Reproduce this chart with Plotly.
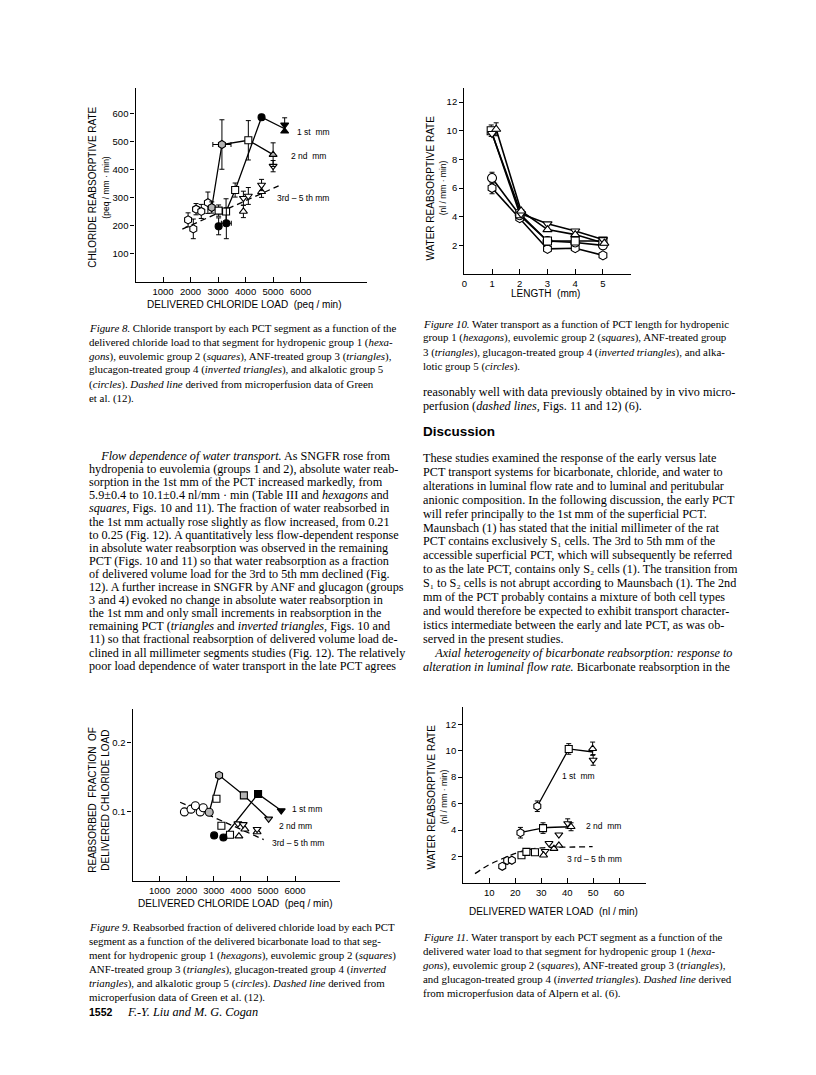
import plotly.graph_objects as go

# page size, and the 8px body margin the browser adds around the plot div
PAGE_W, PAGE_H = 816, 1075
OFF = 8
W, H = PAGE_W - 2 * OFF, PAGE_H - 2 * OFF

# ---------------- data ----------------

# Figure 8: chloride reabsorptive rate vs delivered chloride load
f8_hex_open_x = [1910, 2100, 2200, 2390, 2630]
f8_hex_open_y = [221, 189, 259, 251, 282]
f8_hex_open_e = [25, 35, 20, 25, 38]
f8_hex_gray_x = [2770, 3140]
f8_hex_gray_y = [265, 489]
f8_hex_gray_e = [20, 88]
f8_hex_gray_ex = [0, 330]
f8_sq_x = [3020, 3290, 3620, 4100]
f8_sq_y = [254, 251, 327, 504]
f8_sq_e = [20, 45, 25, 70]
f8_circ_x = [3020, 3300, 4580]
f8_circ_y = [198, 209, 586]
f8_circ_e = [30, 55, 10]
f8_circ_ex = [0, 180, 0]
f8_tri_open_x = [3920, 4580]
f8_tri_open_y = [251, 321]
f8_tri_open_e = [22, 20]
f8_inv_open_x = [5000, 3920, 4100, 4580]
f8_inv_open_y = [412, 298, 306, 345]
f8_inv_open_e = [20, 25, 30, 20]
f8_tri_gray_x = [5000]
f8_tri_gray_y = [453]
f8_tri_gray_e = [42]
f8_tri_black_x = [5420]
f8_tri_black_y = [536]
f8_inv_black_x = [5420]
f8_inv_black_y = [559]
f8_inv_black_e = [25]
f8_line_2nd_x = [2770, 3140, 4100, 5000]
f8_line_2nd_y = [265, 489, 504, 453]
f8_line_1st_x = [3290, 3620, 4580, 5420]
f8_line_1st_y = [251, 327, 586, 545]
f8_dash_x = [1700, 5200]
f8_dash_y = [188, 342]

# Figure 10: water reabsorptive rate vs PCT length
f10_hex_x = [1, 2, 3, 4, 5]
f10_hex_y = [6.0, 3.9, 1.75, 1.8, 1.3]
f10_sq_x = [0.97, 2, 3, 4, 5]
f10_sq_y = [10.0, 4.2, 2.3, 2.3, 2.3]
f10_tri_x = [1.15, 2.05, 3, 4, 5.05]
f10_tri_y = [10.1, 4.4, 3.1, 2.75, 2.15]
f10_inv_x = [1.0, 2.05, 3, 4, 5]
f10_inv_y = [9.8, 4.2, 3.5, 3.0, 2.4]
f10_circ_x = [1, 2, 3, 4, 5]
f10_circ_y = [6.7, 4.1, 2.3, 2.2, 2.0]
f10_err = [0.4, 0, 0, 0, 0]
f10_tri_err = [0.45, 0, 0, 0, 0]

# Figure 9: reabsorbed fraction of delivered chloride load
f9_open_circ_x = [1915, 2160, 2320, 2500, 2610]
f9_open_circ_y = [0.100, 0.104, 0.109, 0.100, 0.106]
f9_gray_circ_x = [2830]
f9_gray_circ_y = [0.0995]
f9_gray_hex_x = [3195]
f9_gray_hex_y = [0.153]
f9_gray_sq_x = [4110]
f9_gray_sq_y = [0.124]
f9_gray_inv_x = [5024]
f9_gray_inv_y = [0.090]
f9_black_circ_x = [3012, 3354]
f9_black_circ_y = [0.066, 0.063]
f9_black_sq_x = [4634]
f9_black_sq_y = [0.126]
f9_black_tri_x = [5488]
f9_black_tri_y = [0.102]
f9_open_sq_x = [3098, 3280, 3598]
f9_open_sq_y = [0.119, 0.080, 0.067]
f9_open_tri_x = [3927, 4146, 4598]
f9_open_tri_y = [0.065, 0.075, 0.071]
f9_open_inv_x = [3890, 4085, 4598]
f9_open_inv_y = [0.083, 0.082, 0.075]
f9_line_2nd_x = [2830, 3195, 4110, 5024]
f9_line_2nd_y = [0.0995, 0.153, 0.124, 0.090]
f9_line_1st_x = [3354, 4634, 5488]
f9_line_1st_y = [0.063, 0.126, 0.102]
f9_dash_x = [1756, 4841]
f9_dash_y = [0.114, 0.060]

# Figure 11: water reabsorptive rate vs delivered water load
f11_hex_x = [28.5, 22.0, 15.0, 16.9, 18.7]
f11_hex_y = [5.8, 3.8, 1.26, 1.70, 1.72]
f11_hex_e = [0.4, 0.4, 0, 0, 0]
f11_sq_x = [40.6, 30.7, 22.4, 24.3, 27.6]
f11_sq_y = [10.13, 4.15, 2.1, 2.35, 2.32]
f11_sq_e = [0.4, 0.4, 0, 0, 0]
f11_tri_x = [49.8, 41.5, 30.9, 34.9, 36.8]
f11_tri_y = [10.15, 4.25, 2.1, 2.6, 2.85]
f11_tri_e = [0.5, 0.3, 0, 0, 0]
f11_inv_x = [50.0, 40.2, 31.5, 33.0, 36.8]
f11_inv_y = [9.3, 4.5, 2.4, 3.0, 3.65]
f11_inv_e = [0.4, 0.35, 0, 0, 0]
f11_line_1st_x = [28.5, 40.6, 50.0]
f11_line_1st_y = [5.8, 10.13, 9.9]
f11_line_2nd_x = [22.0, 30.7, 41.5]
f11_line_2nd_y = [3.8, 4.15, 4.25]
f11_dash_x = [4.5, 9.6, 14.7, 19.8, 24.9, 30.0, 35.1, 42.8, 49.8]
f11_dash_y = [0.71, 1.34, 1.81, 2.22, 2.52, 2.65, 2.70, 2.72, 2.75]

# tick labels
f8_xticks = [1000, 2000, 3000, 4000, 5000, 6000]
f8_yticks = [100, 200, 300, 400, 500, 600]
f10_xticks = [0, 1, 2, 3, 4, 5]
f10_yticks = [2, 4, 6, 8, 10, 12]
f9_xticks = [1000, 2000, 3000, 4000, 5000, 6000]
f9_yticks = [0.1, 0.2]
f11_xticks = [10, 20, 30, 40, 50, 60]
f11_yticks = [2, 4, 6, 8, 10, 12]

# text of the page
fig8_caption = [
    "<i>Figure 8.</i> Chloride transport by each PCT segment as a function of the",
    "delivered chloride load to that segment for hydropenic group 1 (<i>hexa-</i>",
    "<i>gons</i>), euvolemic group 2 (<i>squares</i>), ANF-treated group 3 (<i>triangles</i>),",
    "glucagon-treated group 4 (<i>inverted triangles</i>), and alkalotic group 5",
    "(<i>circles</i>). <i>Dashed line</i> derived from microperfusion data of Green",
    "et al. (12).",
]
fig10_caption = [
    "<i>Figure 10.</i> Water transport as a function of PCT length for hydropenic",
    "group 1 (<i>hexagons</i>), euvolemic group 2 (<i>squares</i>), ANF-treated group",
    "3 (<i>triangles</i>), glucagon-treated group 4 (<i>inverted triangles</i>), and alka-",
    "lotic group 5 (<i>circles</i>).",
]
fig9_caption = [
    "<i>Figure 9.</i> Reabsorbed fraction of delivered chloride load by each PCT",
    "segment as a function of the delivered bicarbonate load to that seg-",
    "ment for hydropenic group 1 (<i>hexagons</i>), euvolemic group 2 (<i>squares</i>)",
    "ANF-treated group 3 (<i>triangles</i>), glucagon-treated group 4 (<i>inverted</i>",
    "<i>triangles</i>), and alkalotic group 5 (<i>circles</i>). <i>Dashed line</i> derived from",
    "microperfusion data of Green et al. (12).",
]
fig11_caption = [
    "<i>Figure 11.</i> Water transport by each PCT segment as a function of the",
    "delivered water load to that segment for hydropenic group 1 (<i>hexa-</i>",
    "<i>gons</i>), euvolemic group 2 (<i>squares</i>), ANF-treated group 3 (<i>triangles</i>),",
    "and glucagon-treated group 4 (<i>inverted triangles</i>). <i>Dashed line</i> derived",
    "from microperfusion data of Alpern et al. (6).",
]
left_body = [
    "    <i>Flow dependence of water transport.</i> As SNGFR rose from",
    "hydropenia to euvolemia (groups 1 and 2), absolute water reab-",
    "sorption in the 1st mm of the PCT increased markedly, from",
    "5.9±0.4 to 10.1±0.4 nl/mm · min (Table III and <i>hexagons</i> and",
    "<i>squares,</i> Figs. 10 and 11). The fraction of water reabsorbed in",
    "the 1st mm actually rose slightly as flow increased, from 0.21",
    "to 0.25 (Fig. 12). A quantitatively less flow-dependent response",
    "in absolute water reabsorption was observed in the remaining",
    "PCT (Figs. 10 and 11) so that water reabsorption as a fraction",
    "of delivered volume load for the 3rd to 5th mm declined (Fig.",
    "12). A further increase in SNGFR by ANF and glucagon (groups",
    "3 and 4) evoked no change in absolute water reabsorption in",
    "the 1st mm and only small increments in reabsorption in the",
    "remaining PCT (<i>triangles</i> and <i>inverted triangles,</i> Figs. 10 and",
    "11) so that fractional reabsorption of delivered volume load de-",
    "clined in all millimeter segments studies (Fig. 12). The relatively",
    "poor load dependence of water transport in the late PCT agrees",
]
right_top = [
    "reasonably well with data previously obtained by in vivo micro-",
    "perfusion (<i>dashed lines,</i> Figs. 11 and 12) (6).",
]
right_body = [
    "These studies examined the response of the early versus late",
    "PCT transport systems for bicarbonate, chloride, and water to",
    "alterations in luminal flow rate and to luminal and peritubular",
    "anionic composition. In the following discussion, the early PCT",
    "will refer principally to the 1st mm of the superficial PCT.",
    "Maunsbach (1) has stated that the initial millimeter of the rat",
    "PCT contains exclusively S₁ cells. The 3rd to 5th mm of the",
    "accessible superficial PCT, which will subsequently be referred",
    "to as the late PCT, contains only S₂ cells (1). The transition from",
    "S₁ to S₂ cells is not abrupt according to Maunsbach (1). The 2nd",
    "mm of the PCT probably contains a mixture of both cell types",
    "and would therefore be expected to exhibit transport character-",
    "istics intermediate between the early and late PCT, as was ob-",
    "served in the present studies.",
    "    <i>Axial heterogeneity of bicarbonate reabsorption: response to</i>",
    "<i>alteration in luminal flow rate.</i> Bicarbonate reabsorption in the",
]

SERIF = "Liberation Serif"
SANS = "Liberation Sans"
GRAY = "#b4b4b4"


# page pixel -> paper fraction
def px(x):
    return (x - OFF) / W


def py(y):
    return 1 - (y - OFF) / H


fig = go.Figure()


def add_marks(n, x, y, symbol, fill, size, err=None, errx=None):
    sfx = "" if n == 1 else str(n)
    kw = {}
    if err is not None:
        kw["error_y"] = dict(type="data", array=err, color="black", thickness=1, width=2.5)
    if errx is not None:
        kw["error_x"] = dict(type="data", array=errx, color="black", thickness=1, width=2.5)
    fig.add_trace(go.Scatter(
        x=x, y=y, mode="markers", xaxis="x" + sfx, yaxis="y" + sfx,
        marker=dict(symbol=symbol, color=fill, size=size, line=dict(color="black", width=1.1)),
        showlegend=False, hoverinfo="skip", **kw))


def add_line(n, x, y, dash="solid", width=1.3, shape="linear"):
    sfx = "" if n == 1 else str(n)
    fig.add_trace(go.Scatter(
        x=x, y=y, mode="lines", xaxis="x" + sfx, yaxis="y" + sfx,
        line=dict(color="black", width=width, dash=dash, shape=shape),
        showlegend=False, hoverinfo="skip"))


# ---- Figure 8 ----
add_line(1, f8_dash_x, f8_dash_y, dash="6px,4px")
add_line(1, f8_line_2nd_x, f8_line_2nd_y)
add_line(1, f8_line_1st_x, f8_line_1st_y)
add_marks(1, f8_hex_open_x, f8_hex_open_y, "hexagon", "white", 8, f8_hex_open_e)
add_marks(1, f8_hex_gray_x, f8_hex_gray_y, "hexagon", GRAY, 8, f8_hex_gray_e, f8_hex_gray_ex)
add_marks(1, f8_sq_x, f8_sq_y, "square", "white", 7, f8_sq_e)
add_marks(1, f8_circ_x, f8_circ_y, "circle", "black", 7, f8_circ_e, f8_circ_ex)
add_marks(1, f8_tri_open_x, f8_tri_open_y, "triangle-up", "white", 7, f8_tri_open_e)
add_marks(1, f8_inv_open_x, f8_inv_open_y, "triangle-down", "white", 7, f8_inv_open_e)
add_marks(1, f8_tri_gray_x, f8_tri_gray_y, "triangle-up", GRAY, 7, f8_tri_gray_e)
add_marks(1, f8_tri_black_x, f8_tri_black_y, "triangle-up", "black", 7)
add_marks(1, f8_inv_black_x, f8_inv_black_y, "triangle-down", "black", 7, f8_inv_black_e)

# ---- Figure 10 ----
for xs, ys in [(f10_hex_x, f10_hex_y), (f10_sq_x, f10_sq_y), (f10_tri_x, f10_tri_y),
               (f10_inv_x, f10_inv_y), (f10_circ_x, f10_circ_y)]:
    add_line(2, xs, ys, width=1.6)
add_marks(2, f10_hex_x, f10_hex_y, "hexagon", "white", 9, f10_err)
add_marks(2, f10_circ_x, f10_circ_y, "circle", "white", 9, f10_err)
add_marks(2, f10_sq_x, f10_sq_y, "square", "white", 8, f10_err)
add_marks(2, f10_inv_x, f10_inv_y, "triangle-down", "white", 8)
add_marks(2, f10_tri_x, f10_tri_y, "triangle-up", "white", 8, f10_tri_err)

# ---- Figure 9 ----
add_line(3, f9_dash_x, f9_dash_y, dash="6px,4px")
add_line(3, f9_line_2nd_x, f9_line_2nd_y)
add_line(3, f9_line_1st_x, f9_line_1st_y)
add_marks(3, f9_open_circ_x, f9_open_circ_y, "circle", "white", 8)
add_marks(3, f9_gray_circ_x, f9_gray_circ_y, "circle", GRAY, 8)
add_marks(3, f9_gray_hex_x, f9_gray_hex_y, "hexagon", GRAY, 8)
add_marks(3, f9_gray_sq_x, f9_gray_sq_y, "square", GRAY, 7)
add_marks(3, f9_gray_inv_x, f9_gray_inv_y, "triangle-down", GRAY, 7)
add_marks(3, f9_open_sq_x, f9_open_sq_y, "square", "white", 7)
add_marks(3, f9_open_tri_x, f9_open_tri_y, "triangle-up", "white", 7)
add_marks(3, f9_open_inv_x, f9_open_inv_y, "triangle-down", "white", 7)
add_marks(3, f9_black_circ_x, f9_black_circ_y, "circle", "black", 7)
add_marks(3, f9_black_sq_x, f9_black_sq_y, "square", "black", 7)
add_marks(3, f9_black_tri_x, f9_black_tri_y, "triangle-down", "black", 7)

# ---- Figure 11 ----
add_line(4, f11_dash_x, f11_dash_y, dash="6px,4px", shape="spline")
add_line(4, f11_line_1st_x, f11_line_1st_y)
add_line(4, f11_line_2nd_x, f11_line_2nd_y, shape="spline")
add_marks(4, f11_hex_x, f11_hex_y, "hexagon", "white", 8, f11_hex_e)
add_marks(4, f11_sq_x, f11_sq_y, "square", "white", 7, f11_sq_e)
add_marks(4, f11_inv_x, f11_inv_y, "triangle-down", "white", 7, f11_inv_e)
add_marks(4, f11_tri_x, f11_tri_y, "triangle-up", "white", 7, f11_tri_e)


def axis(dom, rng, ticks, anchor, ticktext=None, side="x"):
    d = dict(
        domain=dom, range=rng, anchor=anchor, showgrid=False, zeroline=False,
        showline=True, linecolor="black", linewidth=1.4,
        tickmode="array", tickvals=ticks, ticks="inside" if side == "x" else "outside",
        ticklen=5 if side == "x" else 4, tickwidth=1.2, tickcolor="black",
        tickfont=dict(family=SANS, size=9.5, color="black"), fixedrange=True,
    )
    if ticktext is not None:
        d["ticktext"] = ticktext
    return d


fig.update_layout(
    width=W, height=H, margin=dict(l=0, r=0, t=0, b=0),
    paper_bgcolor="white", plot_bgcolor="white",
    xaxis=axis([px(133), px(365)], [0, 8400], f8_xticks, "y"),
    yaxis=axis([py(282), py(88)], [0, 690], f8_yticks, "x", side="y"),
    xaxis2=axis([px(463), px(630)], [0, 6], f10_xticks, "y2"),
    yaxis2=axis([py(274), py(88)], [0, 12.98], f10_yticks, "x2", side="y"),
    xaxis3=axis([px(130), px(338)], [0, 7650], f9_xticks, "y3"),
    yaxis3=axis([py(881), py(709)], [0, 0.249], f9_yticks, "x3", ["0.1", "0.2"], side="y"),
    xaxis4=axis([px(462), px(645)], [0, 70.2], f11_xticks, "y4"),
    yaxis4=axis([py(883), py(707)], [0, 13.3], f11_yticks, "x4", side="y"),
)

ann = []


def text(x, y, s, size, family=SERIF, xanchor="left", angle=0):
    ann.append(dict(x=px(x), y=py(y), xref="paper", yref="paper", text=s,
                    showarrow=False, xanchor=xanchor, yanchor="middle", textangle=angle,
                    font=dict(family=family, size=size, color="black")))


def vtext(x, y, s, size):
    text(x, y, s, size, SANS, "center", -90)


def block(lines, x0, y0, step, size):
    for i, s in enumerate(lines):
        text(x0, y0 + i * step, s, size)


# chart labels
CH = 10
LB = 8.5
vtext(89, 187, "CHLORIDE REABSORPTIVE RATE", CH)
vtext(103, 187, "(peq / mm · min)", LB)
text(242, 305, "DELIVERED CHLORIDE LOAD  (peq / min)", CH, SANS, "center")
text(293, 132, "1 st  mm", LB, SANS)
text(287, 156, "2 nd  mm", LB, SANS)
text(273, 198, "3rd – 5 th mm", LB, SANS)

vtext(429, 188, "WATER REABSORPTIVE RATE", CH)
vtext(442, 188, "(nl / mm · min)", LB)
text(545, 294, "LENGTH  (mm)", CH, SANS, "center")

vtext(89, 800, "REABSORBED  FRACTION  OF", CH)
vtext(102, 800, "DELIVERED CHLORIDE LOAD", CH)
text(233, 903, "DELIVERED CHLORIDE LOAD  (peq / min)", CH, SANS, "center")
text(288, 809, "1 st mm", LB, SANS)
text(275, 826, "2 nd mm", LB, SANS)
text(268, 843, "3rd – 5 th mm", LB, SANS)

vtext(430, 797, "WATER REABSORPTIVE RATE", CH)
vtext(443, 797, "(nl / mm · min)", LB)
text(553, 911, "DELIVERED WATER LOAD  (nl / min)", CH, SANS, "center")
text(559, 776, "1 st  mm", LB, SANS)
text(583, 826, "2 nd  mm", LB, SANS)
text(564, 859, "3 rd – 5 th mm", LB, SANS)

# captions and body text
CAP = 10.9
BODY = 12.2
block(fig8_caption, 84, 328, 14, CAP)
block(fig10_caption, 420, 324, 14, CAP)
block(fig9_caption, 84, 927, 14, CAP)
block(fig11_caption, 420, 937, 14, CAP)
block(left_body, 84, 456, 13.1, BODY)
block(right_top, 420, 392, 14, BODY)
text(420, 431, "<b>Discussion</b>", 13.5, SANS)
block(right_body, 420, 458, 13.9, BODY)
text(84, 1012, "<b>1552</b>", 10.5, SANS)
text(122, 1012, "<i>F.-Y. Liu and M. G. Cogan</i>", 12.3)

fig.update_layout(annotations=ann)
fig.write_html("out.html")
